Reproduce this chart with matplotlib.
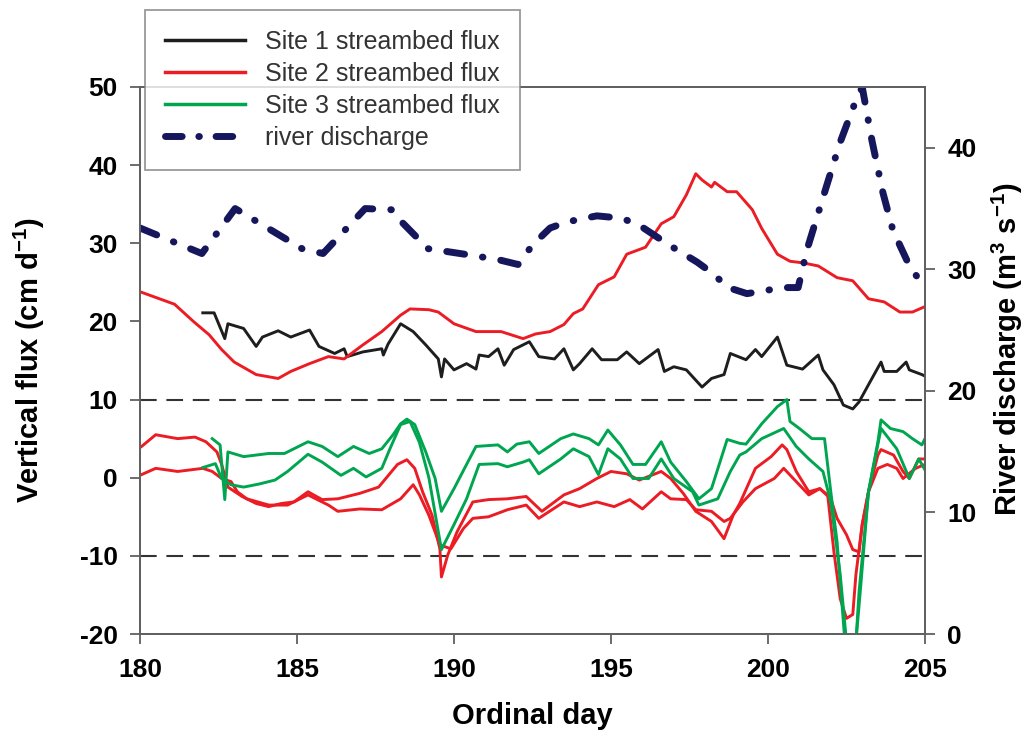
import matplotlib
matplotlib.use("Agg")
import matplotlib.pyplot as plt
from matplotlib.lines import Line2D

# ============================================================
# Data
# ============================================================

# Site 1 streambed flux (cm/d)
site1_day = [
    182.0, 182.36, 182.7, 182.8, 183.3, 183.7, 183.9, 184.4, 184.8, 185.4,
    185.7, 186.2, 186.5, 186.6, 187.1, 187.7, 187.75, 187.9, 188.3, 188.7,
    189.1, 189.5, 189.6, 189.7, 190.0, 190.4, 190.7, 190.8, 191.1, 191.4,
    191.6, 191.9, 192.4, 192.7, 193.2, 193.5, 193.8, 194.0, 194.4, 194.7,
    195.2, 195.5, 195.9, 196.5, 196.7, 197.0, 197.4, 197.9, 198.2, 198.6,
    198.8, 199.3, 199.6, 199.8, 200.3, 200.6, 201.1, 201.6, 201.75, 202.1,
    202.4, 202.7, 202.9, 203.2, 203.6, 203.7, 204.1, 204.4, 204.5, 204.9,
    205.0,
]
site1_flux = [
    21.1, 21.1, 17.8, 19.7, 19.1, 16.8, 18.0, 18.8, 18.0, 18.9,
    16.8, 15.9, 16.5, 15.5, 16.1, 16.5, 15.7, 17.1, 19.7, 18.7,
    17.0, 15.2, 12.9, 15.2, 13.8, 14.6, 13.9, 15.7, 15.5, 16.5,
    14.4, 16.4, 17.4, 15.5, 15.2, 16.5, 13.8, 14.6, 16.5, 15.1,
    15.1, 16.1, 14.6, 16.4, 13.6, 14.2, 13.8, 11.6, 12.7, 13.2,
    15.9, 15.1, 16.4, 15.5, 18.0, 14.4, 13.9, 15.7, 13.8, 11.9,
    9.3, 8.8, 9.7, 11.9, 14.8, 13.6, 13.6, 14.8, 13.8, 13.2,
    13.0,
]

# Site 2 streambed flux, upper trace
site2_top_day = [
    180.0, 181.1, 181.7, 182.2, 182.6, 183.0, 183.7, 184.4, 184.8, 185.4,
    186.0, 186.5, 187.1, 187.7, 188.3, 188.6, 189.2, 189.5, 190.0, 190.7,
    191.5, 192.2, 192.6, 193.06, 193.5, 193.8, 194.1, 194.6, 195.1, 195.5,
    196.1, 196.6, 197.0, 197.4, 197.7, 197.9, 198.2, 198.3, 198.7, 199.0,
    199.5, 199.8, 200.3, 200.7, 201.1, 201.6, 202.2, 202.7, 203.2, 203.7,
    204.2, 204.6, 205.0,
]
site2_top_flux = [
    23.8, 22.2, 20.0, 18.3, 16.4, 14.8, 13.2, 12.7, 13.6, 14.6,
    15.5, 15.2, 17.0, 18.7, 20.8, 21.6, 21.5, 21.2, 19.7, 18.7,
    18.7, 17.8, 18.4, 18.7, 19.6, 21.0, 21.6, 24.7, 25.7, 28.6,
    29.5, 32.5, 33.4, 36.2, 38.9, 38.1, 37.2, 37.8, 36.6, 36.6,
    34.3, 31.9, 28.6, 27.7, 27.5, 27.1, 25.6, 25.2, 22.9, 22.5,
    21.2, 21.2, 21.9,
]

# Site 2 streambed flux, lower traces
site2_a_day = [
    180.05, 180.5, 181.2, 181.75, 182.1, 182.45, 182.6, 182.8, 183.25, 183.7,
    184.1, 184.5, 184.9, 185.35, 185.8, 186.3, 187.0, 187.6, 188.2, 188.5,
    188.75, 189.0, 189.3, 189.55, 189.6, 189.8, 190.1, 190.6, 191.1, 191.7,
    192.3, 192.8, 193.5, 194.0, 194.55, 195.0, 195.5, 195.9, 196.6, 196.9,
    197.3, 197.7, 198.2, 198.6, 198.9, 199.1, 199.6, 200.1, 200.45, 200.6,
    200.9, 201.3, 201.65, 201.9, 202.1, 202.3, 202.5, 202.7, 202.8, 203.0,
    203.2, 203.5, 203.6, 204.0, 204.3, 204.5, 204.8, 205.0,
]
site2_a_flux = [
    4.0, 5.5, 5.0, 5.2, 4.6, 3.3, 1.7, -1.2, -2.4, -3.3,
    -3.7, -3.3, -3.1, -1.8, -2.8, -2.7, -2.0, -1.2, 1.7, 2.3,
    1.2, -1.8, -4.8, -9.1, -12.7, -9.9, -6.9, -3.1, -2.8, -2.7,
    -2.4, -4.3, -2.2, -1.4, -0.1, 0.8, 0.5, -0.3, 0.8, -0.1,
    -2.0, -4.3, -5.6, -7.8, -4.7, -3.3, 1.2, 2.7, 4.2, 3.6,
    0.8, -1.8, -1.4, -2.2, -9.5, -15.5, -18.0, -17.5, -12.4, -6.0,
    -1.8, 2.9, 3.6, 2.9, 0.8, -0.1, 2.4, 2.4,
]

site2_b_day = [
    180.05, 180.5, 181.2, 182.0, 182.3, 182.6, 182.9, 183.1, 183.4, 184.1,
    184.7, 185.35, 186.0, 186.3, 187.0, 187.7, 188.3, 188.7, 188.9, 189.2,
    189.55, 189.9, 190.3, 190.6, 191.1, 191.7, 192.3, 192.7, 193.5, 194.0,
    194.55, 195.1, 195.6, 196.0, 196.6, 196.9, 197.4, 197.7, 198.2, 198.6,
    198.8, 199.2, 199.6, 200.2, 200.5, 200.9, 201.3, 201.65, 202.0, 202.2,
    202.5, 202.7, 202.9, 203.0, 203.2, 203.5, 203.8, 204.1, 204.3, 204.7,
    205.0,
]
site2_b_flux = [
    0.4, 1.2, 0.8, 1.2, 0.8, -0.1, -0.5, -1.8, -2.7, -3.5,
    -3.5, -2.2, -3.5, -4.3, -4.0, -4.1, -2.7, -0.9, -2.2, -4.8,
    -8.6, -9.1, -6.5, -5.2, -5.0, -4.1, -3.5, -5.2, -3.1, -3.7,
    -3.1, -3.7, -2.8, -4.0, -1.8, -2.7, -2.8, -4.1, -4.3, -5.6,
    -5.2, -3.1, -1.4, -0.1, 1.2, -0.5, -2.2, -1.4, -2.7, -5.2,
    -7.3, -9.2, -9.5, -6.0, -1.8, 1.2, 1.7, 1.2, -0.1, 1.2,
    1.7,
]

# Site 3 streambed flux, two traces
site3_a_day = [
    182.3, 182.55, 182.7, 182.8, 183.3, 184.1, 184.6, 185.35, 185.8, 186.3,
    186.8, 187.3, 187.7, 188.06, 188.3, 188.5, 188.75, 189.1, 189.4, 189.6,
    190.0, 190.4, 190.7, 191.4, 191.7, 192.0, 192.4, 192.7, 193.4, 193.8,
    194.3, 194.6, 194.9, 195.3, 195.7, 196.1, 196.6, 196.9, 197.4, 197.8,
    198.2, 198.7, 199.1, 199.3, 199.8, 200.3, 200.6, 200.7, 201.0, 201.4,
    201.8, 202.0, 202.2, 202.45, 202.8, 202.9, 203.2, 203.5, 203.6, 203.9,
    204.3, 204.6, 204.9, 205.0,
]
site3_a_flux = [
    5.0, 4.2, -2.8, 3.3, 2.7, 3.1, 3.1, 4.6, 4.0, 2.7,
    4.0, 3.1, 3.7, 5.5, 6.9, 7.5, 6.8, 3.3, -0.1, -4.3,
    -1.4, 1.7, 4.0, 4.2, 3.3, 4.3, 4.6, 3.1, 5.0, 5.6,
    5.0, 4.2, 6.1, 4.2, 1.7, 1.7, 4.6, 2.0, -0.5, -2.7,
    -1.4, 4.9, 4.4, 4.3, 6.9, 9.1, 10.0, 7.2, 6.3, 5.0,
    5.0, -1.8, -8.2, -21.0, -21.0, -14.6, -1.8, 4.6, 7.4, 6.3,
    5.9, 5.0, 4.2, 5.0,
]

site3_b_day = [
    182.0, 182.4, 182.6, 182.9, 183.3, 183.8, 184.3, 184.7, 185.35, 185.8,
    186.4, 186.8, 187.2, 187.7, 187.96, 188.3, 188.6, 188.9, 189.2, 189.6,
    190.0, 190.4, 190.8, 191.4, 191.7, 192.2, 192.4, 192.7, 193.4, 193.8,
    194.3, 194.6, 194.9, 195.3, 195.7, 196.2, 196.6, 197.0, 197.6, 197.8,
    198.4, 198.8, 199.1, 199.3, 199.8, 200.5, 200.9, 201.3, 201.75, 202.0,
    202.3, 202.5, 202.8, 202.95, 203.2, 203.6, 204.1, 204.5, 204.8, 205.0,
]
site3_b_flux = [
    1.3, 1.8, -0.1, -0.9, -1.2, -0.8, -0.3, 0.8, 3.0, 2.0,
    0.3, 1.2, 0.1, 1.2, 3.7, 6.8, 7.2, 4.5, 0.0, -9.2,
    -6.0, -2.7, 1.7, 1.8, 1.4, 2.0, 2.3, 0.5, 2.4, 3.7,
    2.7, 0.4, 3.7, 2.4, -0.1, -0.1, 2.4, -0.1, -1.8, -3.5,
    -2.7, 0.8, 2.9, 3.3, 5.0, 6.3, 4.0, 2.4, 0.8, -3.1,
    -12.4, -21.0, -21.0, -14.0, -1.8, 6.3, 3.7, -0.1, 2.4, 1.0,
]

# River discharge (m3/s)
river_day = [
    180.0, 181.97, 183.03, 185.16, 185.83, 187.17, 188.03, 188.22, 189.17, 190.45,
    191.4, 192.04, 192.5, 193.06, 193.6, 194.55, 195.35, 195.92, 196.5, 197.04,
    197.74, 198.22, 198.73, 199.33, 200.48, 200.96, 201.24, 201.75, 202.29, 202.77,
    203.0, 203.31, 203.66, 203.98, 204.52, 205.0,
]
river_q = [
    33.4, 31.3, 35.0, 31.7, 31.3, 35.0, 34.9, 34.2, 31.7, 31.2,
    30.8, 30.4, 32.0, 33.4, 33.9, 34.4, 34.2, 33.6, 32.6, 31.7,
    30.6, 29.7, 28.5, 28.0, 28.5, 28.5, 31.6, 35.9, 40.4, 43.7,
    45.0, 40.6, 36.3, 33.2, 30.2, 28.5,
]

x_ticks = [180, 185, 190, 195, 200, 205]
flux_ticks = [-20, -10, 0, 10, 20, 30, 40, 50]
river_ticks = [0, 10, 20, 30, 40]
flux_limits = [-10, 10]

legend_labels = [
    "Site 1 streambed flux",
    "Site 2 streambed flux",
    "Site 3 streambed flux",
    "river discharge",
]

# ============================================================
# Style
# ============================================================

plt.rcParams["font.family"] = ["Liberation Sans", "DejaVu Sans"]
plt.rcParams["axes.unicode_minus"] = False
plt.rcParams["mathtext.fontset"] = "custom"
plt.rcParams["mathtext.rm"] = "Liberation Sans:bold"
plt.rcParams["mathtext.default"] = "rm"
plt.rcParams["lines.scale_dashes"] = False

BLACK = "#1e1e1e"
RED = "#ec1c24"
GREEN = "#00a550"
NAVY = "#16165c"
SPINE = "#606060"
LW = 2.1
TICK_SIZE = 19
LABEL_SIZE = 21

RIVER_DASHES = (13, 13, 0.4, 13)

# ============================================================
# Plot
# ============================================================

fig = plt.figure(figsize=(10.33, 7.36), dpi=100)
ax = fig.add_axes([140 / 1033, 102 / 736, 785 / 1033, 547 / 736])
ax2 = ax.twinx()

for level in flux_limits:
    ax.axhline(level, color="#333333", linewidth=1.5, dashes=(12, 7), zorder=1)

ax.plot(site1_day, site1_flux, color=BLACK, linewidth=LW, zorder=3)
ax.plot(site2_top_day, site2_top_flux, color=RED, linewidth=LW, zorder=3)
ax.plot(site2_a_day, site2_a_flux, color=RED, linewidth=LW, zorder=3)
ax.plot(site2_b_day, site2_b_flux, color=RED, linewidth=LW, zorder=3)
ax.plot(site3_a_day, site3_a_flux, color=GREEN, linewidth=LW, zorder=4)
ax.plot(site3_b_day, site3_b_flux, color=GREEN, linewidth=LW, zorder=4)

ax2.plot(
    river_day, river_q,
    color=NAVY,
    linewidth=5,
    dashes=RIVER_DASHES,
    dash_capstyle="round",
)

ax.set_xlim(180, 205)
ax.set_ylim(-20, 50)
ax2.set_ylim(0, 45)

ax.set_xticks(x_ticks)
ax.set_yticks(flux_ticks)
ax2.set_yticks(river_ticks)

for a in (ax, ax2):
    for spine in a.spines.values():
        spine.set_color(SPINE)
        spine.set_linewidth(1.3)

ax.tick_params(axis="both", direction="out", length=7, width=1.3,
               color=SPINE, labelsize=TICK_SIZE)
ax.tick_params(axis="x", pad=10)
ax.tick_params(axis="y", pad=9)
ax2.tick_params(axis="y", direction="out", length=7, width=1.3,
                color=SPINE, labelsize=TICK_SIZE, pad=9)

for label in ax.get_xticklabels() + ax.get_yticklabels() + ax2.get_yticklabels():
    label.set_fontweight("bold")

ax.set_xlabel("Ordinal day", fontsize=LABEL_SIZE, fontweight="bold")
ax.set_ylabel("Vertical flux (cm d$^{-1}$)", fontsize=LABEL_SIZE,
              fontweight="bold")
ax2.set_ylabel("River discharge (m$^{3}$ s$^{-1}$)", fontsize=LABEL_SIZE,
               fontweight="bold", rotation=90)
ax.xaxis.set_label_coords(0.5, -0.125)
ax.yaxis.set_label_coords(-0.118, 0.5)
ax2.yaxis.set_label_coords(1.083, 0.52)

handles = [
    Line2D([], [], color=BLACK, linewidth=2.5),
    Line2D([], [], color=RED, linewidth=2.5),
    Line2D([], [], color=GREEN, linewidth=2.5),
    Line2D([], [], color=NAVY, linewidth=5, dashes=(12, 12, 0.4, 12),
           dash_capstyle="round"),
]

legend = fig.legend(
    handles,
    legend_labels,
    loc="upper left",
    bbox_to_anchor=(145 / 1033, 1 - 10 / 736),
    fontsize=18,
    labelcolor="#333333",
    frameon=True,
    fancybox=False,
    edgecolor="#808080",
    handlelength=3.2,
    handletextpad=0.8,
    labelspacing=0.32,
    borderpad=0.8,
    borderaxespad=0,
)
legend.get_frame().set_linewidth(1.3)

fig.savefig("out.png", dpi=100)
